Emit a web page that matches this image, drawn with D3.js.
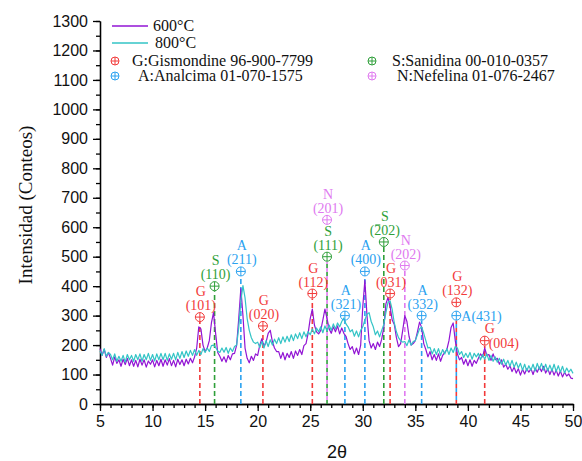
<!DOCTYPE html>
<html>
<head>
<meta charset="utf-8">
<script src="https://cdn.jsdelivr.net/npm/d3@7"></script>
<style>
  body { margin: 0; background: #fff; }
  svg { display: block; }
</style>
</head>
<body>
<svg width="582" height="461"></svg>
<script>
// 2-theta sampling grid of the scan (5 to 50, every 0.2 degree)
var angleStart = 5, angleStep = 0.2;

// Intensity at 600 C, one row per degree (x.0, x.2, x.4, x.6, x.8)
var counts600 = [
  188,165,185,158,175,   // 5
  155,132,160,138,150,   // 6
  128,152,134,155,130,   // 7
  150,128,148,126,152,   // 8
  132,150,125,146,135,   // 9
  150,126,148,130,152,   // 10
  128,150,132,154,130,   // 11
  148,126,152,134,150,   // 12
  130,152,136,155,140,   // 13
  160,190,262,255,200,   // 14
  178,190,215,275,310,   // 15
  240,175,162,145,160,   // 16
  142,165,150,170,172,   // 17
  200,290,392,300,190,   // 18
  155,140,162,148,170,   // 19
  165,200,222,195,210,   // 20
  240,250,212,190,178,   // 21
  178,155,175,150,172,   // 22
  158,178,155,180,165,   // 23
  185,168,198,205,240,   // 24
  290,322,268,245,238,   // 25
  250,285,322,290,255,   // 26
  240,262,245,265,238,   // 27
  258,240,230,205,185,   // 28
  195,170,190,168,200,   // 29
  330,420,300,215,190,   // 30
  205,185,210,195,220,   // 31
  260,340,362,330,285,   // 32
  270,225,195,205,250,   // 33
  300,280,230,200,205,   // 34
  215,245,278,260,205,   // 35
  185,160,178,150,168,   // 36
  148,170,145,165,175,   // 37
  185,215,260,275,215,   // 38
  170,150,158,135,152,   // 39
  130,150,128,148,138,   // 40
  155,170,160,190,165,   // 41
  168,148,170,150,155,   // 42
  135,150,125,135,118,   // 43
  130,110,125,105,120,   // 44
  98,118,102,120,108,    // 45
  120,100,122,108,125,   // 46
  110,128,105,120,100,   // 47
  118,98,115,95,112,     // 48
  92,108,95,102,88,      // 49
  86                     // 50
];

// Intensity at 800 C
var counts800 = [
  180,165,188,162,175,   // 5
  168,150,170,145,162,   // 6
  145,165,142,168,150,   // 7
  165,145,168,150,170,   // 8
  145,168,150,172,148,   // 9
  168,146,170,150,172,   // 10
  150,172,148,170,152,   // 11
  172,150,175,155,178,   // 12
  158,180,162,182,165,   // 13
  185,165,182,168,188,   // 14
  175,190,178,198,200,   // 15
  192,180,175,190,176,   // 16
  192,172,190,178,195,   // 17
  200,260,350,402,360,   // 18
  290,250,225,210,205,   // 19
  210,192,212,190,215,   // 20
  195,218,200,220,205,   // 21
  225,205,228,210,230,   // 22
  212,235,215,238,222,   // 23
  242,222,245,228,246,   // 24
  235,255,238,258,245,   // 25
  262,242,265,248,268,   // 26
  250,272,255,275,262,   // 27
  280,292,272,262,245,   // 28
  252,230,248,228,250,   // 29
  262,285,305,310,280,   // 30
  262,235,248,228,250,   // 31
  270,310,345,350,320,   // 32
  275,245,225,215,210,   // 33
  212,198,218,200,212,   // 34
  215,235,255,262,240,   // 35
  215,190,192,170,188,   // 36
  168,188,165,185,170,   // 37
  188,168,190,175,195,   // 38
  190,168,178,158,172,   // 39
  158,175,152,172,160,   // 40
  172,150,168,152,170,   // 41
  148,165,145,160,142,   // 42
  155,135,152,132,148,   // 43
  128,148,125,142,122,   // 44
  138,115,135,112,130,   // 45
  115,135,112,138,118,   // 46
  138,115,135,112,132,   // 47
  112,135,110,130,108,   // 48
  128,105,122,108,118,   // 49
  104                    // 50
];

var seriesNames = ['600\u00B0C', '800\u00B0C'];

// Phase reference peaks
var peakPhase = ['G','S','A','G','G','S','N','A','A','S','G','N','A','G','A','G'];
var peakHkl   = ['(101)','(110)','(211)','(020)','(112)','(111)','(201)','(321)','(400)',
                 '(202)','(031)','(202)','(332)','(132)','(431)','(004)'];
var peakAngle = [14.5, 15.9, 18.4, 20.5, 25.2, 26.6, 26.6, 28.3, 30.2,
                 32.0, 32.6, 34.0, 35.6, 38.9, 38.9, 41.6];
var peakMark  = [295, 400, 450, 265, 375, 500, 625, 300, 450,
                 550, 375, 470, 300, 345, 300, 215];

var phaseCodes = ['G', 'A', 'S', 'N'];
var phaseNames = ['G:Gismondine 96-900-7799', 'A:Analcima 01-070-1575',
                  'S:Sanidina 00-010-0357', 'N:Nefelina 01-076-2467'];

var yTicks = d3.range(0, 1301, 100);
var xTicks = [5, 10, 15, 20, 25, 30, 35, 40, 45, 50];

var lineColors = ['#9214d4', '#33c4c6'];
var phaseColor = {G: '#f23a3a', A: '#2ba2f0', S: '#2f9f3a', N: '#e07af0'};

var svg = d3.select('svg');
var serif = 'Liberation Serif, Times New Roman, serif';
var sans = 'Liberation Sans, Arial, sans-serif';

var x = d3.scaleLinear().domain([5, 50]).range([100, 573]);
var y = d3.scaleLinear().domain([0, 1300]).range([404, 21]);

// axes: minor ticks first, then major
function styleAxis(g) {
    g.selectAll('path, line').attr('stroke', '#000').attr('stroke-width', 1.3);
    g.selectAll('text').attr('fill', '#111').style('font-family', sans).style('font-size', '16px');
}
svg.append('g').attr('transform', 'translate(0,404)')
    .call(d3.axisBottom(x).tickValues(d3.range(5, 51, 1)).tickSize(4).tickSizeOuter(0).tickFormat(''))
    .call(styleAxis);
svg.append('g').attr('transform', 'translate(0,404)')
    .call(d3.axisBottom(x).tickValues(xTicks).tickSize(7).tickSizeOuter(0).tickPadding(5)
        .tickFormat(d3.format('d')))
    .call(styleAxis);
svg.append('g').attr('transform', 'translate(100,0)')
    .call(d3.axisLeft(y).tickValues(d3.range(0, 1301, 50)).tickSize(4).tickSizeOuter(0).tickFormat(''))
    .call(styleAxis);
svg.append('g').attr('transform', 'translate(100,0)')
    .call(d3.axisLeft(y).tickValues(yTicks).tickSize(7).tickSizeOuter(0).tickPadding(5)
        .tickFormat(d3.format('d')))
    .call(styleAxis);

svg.append('text')
    .attr('transform', 'translate(25,205) rotate(-90)')
    .attr('text-anchor', 'middle').attr('dominant-baseline', 'central')
    .style('font-family', serif).style('font-size', '19px').attr('fill', '#111')
    .text('Intensidad (Conteos)');
svg.append('text')
    .attr('x', 337).attr('y', 458).attr('text-anchor', 'middle')
    .style('font-family', sans).style('font-size', '18px').attr('fill', '#111')
    .text('2\u03B8');

// dashed reference lines (under the patterns)
var peaks = peakAngle.map(function(a, i) {
    return {angle: a, phase: peakPhase[i], hkl: peakHkl[i], mark: peakMark[i]};
});
peaks.forEach(function(p) {
    var same = peaks.filter(function(q) { return q.angle === p.angle; });
    p.lineTop = d3.min(same, function(q) { return q.mark; });
    p.shared = same.length > 1 ? same.indexOf(p) : -1;
});
svg.append('g').selectAll('line').data(peaks).enter().append('line')
    .attr('x1', function(d) { return x(d.angle); })
    .attr('x2', function(d) { return x(d.angle); })
    .attr('y1', y(0))
    .attr('y2', function(d) { return y(d.lineTop) + 5; })
    .attr('stroke', function(d) { return phaseColor[d.phase]; })
    .attr('stroke-width', 1.6)
    .attr('stroke-dasharray', function(d) { return d.shared >= 0 ? '4,4' : '5,3'; })
    .attr('stroke-dashoffset', function(d) { return d.shared > 0 ? 4 : 0; });

// diffraction patterns
var line = d3.line()
    .x(function(d, i) { return x(angleStart + i * angleStep); })
    .y(function(d) { return y(d); });
[counts600, counts800].forEach(function(s, k) {
    svg.append('path').datum(s)
        .attr('d', line)
        .attr('fill', 'none')
        .attr('stroke', lineColors[k])
        .attr('stroke-width', 1.2)
        .attr('stroke-linejoin', 'round');
});

// crossed circle marker
function marker(g, cx, cy, r, color) {
    g.append('circle').attr('cx', cx).attr('cy', cy).attr('r', r)
        .attr('fill', 'none').attr('stroke', color).attr('stroke-width', 1);
    g.append('line').attr('x1', cx - r).attr('x2', cx + r).attr('y1', cy).attr('y2', cy)
        .attr('stroke', color).attr('stroke-width', 1);
    g.append('line').attr('x1', cx).attr('x2', cx).attr('y1', cy - r).attr('y2', cy + r)
        .attr('stroke', color).attr('stroke-width', 1);
}

var labels = svg.append('g').style('font-family', serif).style('font-size', '14px');
peaks.forEach(function(p) {
    var cx = x(p.angle), cy = y(p.mark), c = phaseColor[p.phase];
    marker(labels, cx, cy, 4.5, c);
    if (p.hkl === '(431)') {
        labels.append('text').attr('x', cx + 5).attr('y', cy + 5).attr('fill', c)
            .text(p.phase + p.hkl);
    } else if (p.hkl === '(004)') {
        labels.append('text').attr('x', cx + 5).attr('y', cy - 8).attr('text-anchor', 'middle')
            .attr('fill', c).text(p.phase);
        labels.append('text').attr('x', cx + 4).attr('y', cy + 7).attr('fill', c).text(p.hkl);
    } else {
        labels.append('text').attr('x', cx + 1).attr('y', cy - 21).attr('text-anchor', 'middle')
            .attr('fill', c).text(p.phase);
        var t = labels.append('text').attr('x', cx + 1).attr('y', cy - 7).attr('text-anchor', 'middle')
            .attr('fill', c).text(p.hkl);
        if (p.phase === 'S' && p.hkl === '(202)') {
            // bar over the first index: (-2 0 2)
            var b = t.node().getExtentOfChar(1);
            labels.append('line')
                .attr('x1', b.x + 1).attr('x2', b.x + b.width - 1)
                .attr('y1', b.y + 2).attr('y2', b.y + 2)
                .attr('stroke', c).attr('stroke-width', 1.1);
        }
    }
});

// legend
var legend = svg.append('g').style('font-family', serif).style('font-size', '16px');
seriesNames.forEach(function(n, i) {
    var ly = 26 + i * 17;
    legend.append('line').attr('x1', 112).attr('x2', 148).attr('y1', ly).attr('y2', ly)
        .attr('stroke', lineColors[i]).attr('stroke-width', 1.3);
    legend.append('text').attr('x', 153 + i * 2).attr('y', ly + 5).attr('fill', '#111').text(n);
});
phaseCodes.forEach(function(code, i) {
    var col = Math.floor(i / 2), row = i % 2;
    var mx = col ? 372 : 115, my = 61 + row * 15;
    marker(legend, mx, my, 4, phaseColor[code]);
    legend.append('text')
        .attr('x', (col ? 392 : 132) + row * (col ? 5 : 6))
        .attr('y', my + 5).attr('fill', '#111').text(phaseNames[i]);
});
</script>
</body>
</html>
